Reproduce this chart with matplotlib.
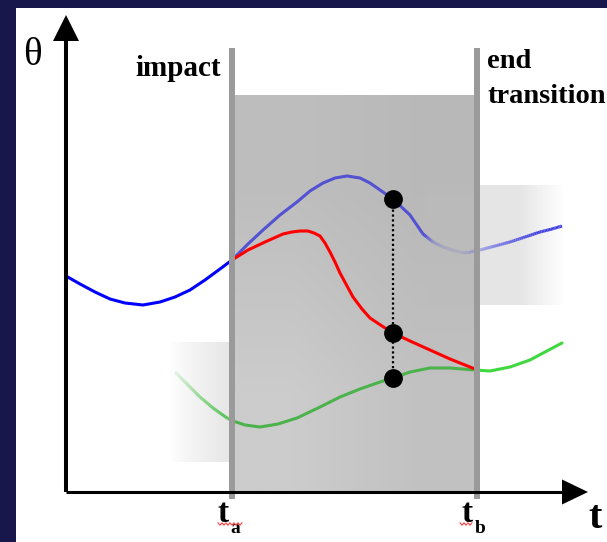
import numpy as np
import matplotlib
matplotlib.use('Agg')
import matplotlib.pyplot as plt
from matplotlib.collections import LineCollection
from matplotlib.patches import Polygon
from matplotlib.colors import to_rgb

# ---------------- data (chart units: t to the right, theta upward) -------------
t_a = 166
t_b = 411
shade_top = 397

blue_pre_t = [0, 14, 29, 44, 59, 77, 94, 109, 124, 139, 154, 166]
blue_pre_th = [216, 208, 200, 193, 189, 187, 190, 195, 202, 212, 223, 232]

blue_mid_t = [166, 182, 197, 214, 231, 244, 257, 269, 281, 294, 304, 314, 327, 344, 357]
blue_mid_th = [232, 248, 262, 277, 290, 301, 309, 314, 316, 314, 309, 302, 293, 277, 258]

blue_post_t = [357, 367, 377, 386, 394, 404, 414, 429, 444, 459, 474, 486, 496]
blue_post_th = [258, 250, 245, 242, 240, 240, 242, 246, 250, 255, 260, 263, 266]
blue_post_alpha = [1.0, 0.3, 0.15, 0.12, 0.12, 0.2, 0.35, 0.55, 0.7, 0.85, 0.95, 1.0, 1.0]

red_t = [166, 182, 199, 217, 226, 234, 242, 248, 254, 259, 264, 269, 274, 281, 287,
         296, 304, 316, 327, 344, 364, 384, 409]
red_th = [232, 242, 250, 258, 260, 261, 261, 259, 256, 249, 240, 230, 219, 206, 195,
          183, 174, 166, 159, 151, 142, 133, 123]

green_pre_t = [109, 121, 134, 147, 161, 167]
green_pre_th = [120, 108, 95, 84, 74, 71]
green_pre_alpha = [0.12, 0.3, 0.5, 0.7, 0.9, 1.0]

green_mid_t = [167, 179, 194, 212, 231, 252, 274, 294, 314, 327, 344, 364, 384, 409]
green_mid_th = [71, 67, 65, 68, 74, 84, 95, 103, 110, 114, 120, 124, 124, 122]

green_post_t = [409, 424, 444, 464, 479, 496]
green_post_th = [122, 121, 125, 132, 140, 149]

probe_t = 327
probe_th = [293, 159, 114]

box_right = (359, 499, 187, 307)   # t0, t1, th0, th1
box_left = (104, 166, 30, 150)

# ---------------- figure ----------------
W, H = 607, 542
fig = plt.figure(figsize=(W / 100, H / 100), dpi=100, facecolor='#17174b')
ax = fig.add_axes([16 / W, 0, (W - 16) / W, (H - 8) / H])
ax.set_facecolor('white')
for s in ax.spines.values():
    s.set_visible(False)
ax.set_xticks([])
ax.set_yticks([])

# shaded transition region with slight gradient
g = np.array([[[0.745, 0.745, 0.745], [0.725, 0.725, 0.725]],
              [[0.80, 0.80, 0.80], [0.76, 0.76, 0.76]]])
ax.imshow(g, extent=(t_a, t_b, 0, shade_top), aspect='auto',
          interpolation='bilinear', zorder=1)


def grad_box(box, rising, z):
    t0, t1, h0, h1 = box
    n = 200
    x = np.linspace(0, 1, n)
    if rising:
        a = 0.38 * np.clip(x, 0, 1) ** 0.8
    else:
        a = 0.38 * np.clip((1 - x) / 0.32, 0, 1)
    img = np.zeros((1, n, 4))
    img[..., :3] = 0.74
    img[..., 3] = a
    ax.imshow(img, extent=(t0, t1, h0, h1), aspect='auto',
              interpolation='bilinear', zorder=z)


grad_box(box_right, False, 2)
grad_box(box_left, True, 2)


def faded(t, th, alphas, color, lw, z, sub=8):
    t = np.asarray(t, float)
    th = np.asarray(th, float)
    al = np.asarray(alphas, float)
    rgb = to_rgb(color)
    segs, cols = [], []
    for i in range(len(t) - 1):
        for k in range(sub):
            f0, f1 = k / sub, (k + 1) / sub
            p0 = (t[i] + (t[i + 1] - t[i]) * f0, th[i] + (th[i + 1] - th[i]) * f0)
            p1 = (t[i] + (t[i + 1] - t[i]) * f1, th[i] + (th[i + 1] - th[i]) * f1)
            a = al[i] + (al[i + 1] - al[i]) * (f0 + f1) / 2
            segs.append([p0, p1])
            cols.append((*rgb, a))
    ax.add_collection(LineCollection(segs, colors=cols, linewidths=lw,
                                     capstyle='butt', zorder=z))


lw = 2.2
ax.plot(blue_pre_t, blue_pre_th, color='#0000ff', lw=lw, zorder=4,
        solid_capstyle='butt')
ax.plot(blue_mid_t, blue_mid_th, color='#5252d2', lw=lw, zorder=4,
        solid_capstyle='butt')
faded(blue_post_t, blue_post_th, blue_post_alpha, '#3a3ae0', lw, 4)
ax.plot(red_t, red_th, color='#ff0000', lw=lw, zorder=5, solid_capstyle='butt')
faded(green_pre_t, green_pre_th, green_pre_alpha, '#3cbf3c', lw, 4)
ax.plot(green_mid_t, green_mid_th, color='#4cb34c', lw=lw, zorder=4,
        solid_capstyle='butt')
ax.plot(green_post_t, green_post_th, color='#3fd83f', lw=lw, zorder=4,
        solid_capstyle='round')

# probe: dotted line and dots
ax.plot([probe_t, probe_t], [min(probe_th), max(probe_th)], color='black',
        lw=1.6, linestyle=(0, (1, 1.2)), zorder=6)
ax.plot([probe_t] * len(probe_th), probe_th, 'o', color='black', ms=12.5,
        zorder=7)

# event lines
for tv in (t_a, t_b):
    ax.plot([tv, tv], [-7, 444], color='#9a9a9a', lw=4.3, zorder=8,
            solid_capstyle='butt')

# axes with arrows
ax.plot([0, 0], [0, 455], color='black', lw=2.9, zorder=9, solid_capstyle='butt')
ax.add_patch(Polygon([[-13, 451], [13, 451], [0, 477]], closed=True,
                     color='black', zorder=9, lw=0))
ax.plot([0, 500], [0, 0], color='black', lw=2.2, zorder=9, solid_capstyle='butt')
ax.add_patch(Polygon([[496, -12.5], [496, 12.5], [522, 0]], closed=True,
                     color='black', zorder=9, lw=0))

serif = ['Liberation Serif', 'DejaVu Serif']
ax.text(-43, 427, 'θ', family=serif, fontsize=28, ha='left', va='baseline',
        zorder=10)
ax.text(69, 416, 'impact', family=serif, fontsize=21, fontweight='bold',
        ha='left', va='baseline', zorder=10)
ax.text(421, 424, 'end', family=serif, fontsize=20.5, fontweight='bold',
        ha='left', va='baseline', zorder=10)
ax.text(421, 389, 'transition', family=serif, fontsize=20.5, fontweight='bold',
        ha='left', va='baseline', zorder=10, clip_on=False)
ax.text(522, -36, 't', family=serif, fontsize=29, fontweight='bold',
        ha='left', va='baseline', zorder=10)
for tv, sub in ((t_a, 'a'), (t_b, 'b')):
    ax.text(tv - 15, -30, 't', family=serif, fontsize=24, fontweight='bold',
            ha='left', va='baseline', zorder=10)
    ax.text(tv - 2, -41, sub, family=serif, fontsize=14, fontweight='bold',
            ha='left', va='baseline', zorder=10)

# red spell-check squiggles
for x0, length in ((t_a - 14, 24), (t_b - 17, 12)):
    xs = np.arange(0, length + 0.1, 2.0)
    ys = np.where((np.arange(len(xs)) % 2) == 0, 1.2, -1.2)
    ax.plot(x0 + xs, -32 + ys, color='#ff4040', lw=0.8, zorder=11)

ax.set_xlim(-50, 541)
ax.set_ylim(-50, 484)
fig.savefig('out.png', dpi=100, facecolor=fig.get_facecolor())
